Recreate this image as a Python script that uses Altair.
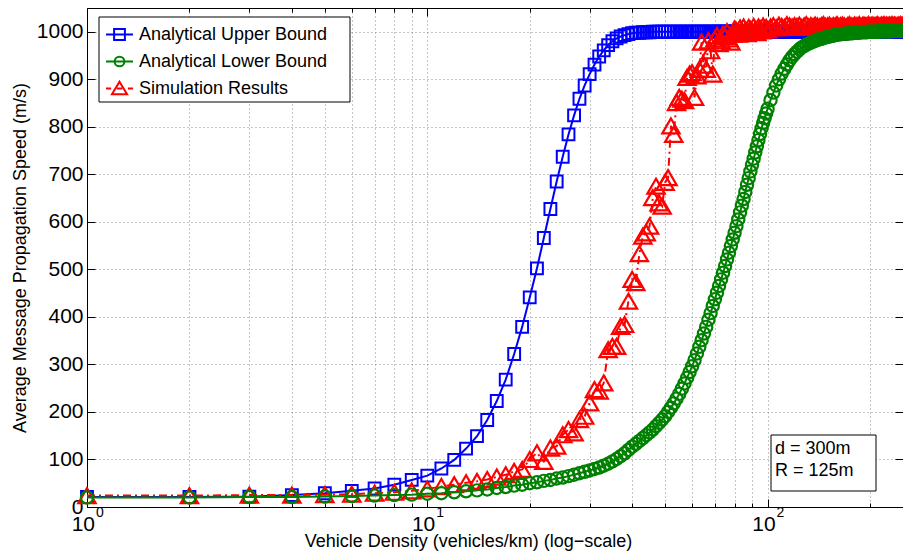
import altair as alt
import pandas as pd

# ---------------- data ----------------
density = list(range(1, 101)) + list(range(102, 251, 2))

upper_bound = [
    21, 21, 22, 25, 29, 34, 39, 47, 57, 66,
    81, 99, 123, 149, 183, 223, 268, 322, 379, 441,
    502, 566, 627, 685, 737, 784, 824, 859, 887, 911,
    931, 948, 961, 972, 980, 986, 990, 993, 995, 997,
    998, 998, 999, 999, 999, 1000, 1000, 1000, 1000, 1000,
    1000, 1000, 1000, 1000, 1000, 1000, 1000, 1000, 1000, 1000,
    1000, 1000, 1000, 1000, 1000, 1000, 1000, 1000, 1000, 1000,
    1000, 1000, 1000, 1000, 1000, 1000, 1000, 1000, 1000, 1000,
    1000, 1000, 1000, 1000, 1000, 1000, 1000, 1000, 1000, 1000,
    1000, 1000, 1000, 1000, 1000, 1000, 1000, 1000, 1000, 1000,
    1000, 1000, 1000, 1000, 1000, 1000, 1000, 1000, 1000, 1000,
    1000, 1000, 1000, 1000, 1000, 1000, 1000, 1000, 1000, 1000,
    1000, 1000, 1000, 1000, 1000, 1000, 1000, 1000, 1000, 1000,
    1000, 1000, 1000, 1000, 1000, 1000, 1000, 1000, 1000, 1000,
    1000, 1000, 1000, 1000, 1000, 1000, 1000, 1000, 1000, 1000,
    1000, 1000, 1000, 1000, 1000, 1000, 1000, 1000, 1000, 1000,
    1000, 1000, 1000, 1000, 1000, 1000, 1000, 1000, 1000, 1000,
    1000, 1000, 1000, 1000, 1000,
]

lower_bound = [
    20, 20, 21, 21, 22, 23, 24, 25, 26, 28,
    29, 31, 33, 35, 37, 40, 42, 45, 47, 50,
    52, 55, 57, 60, 62, 65, 68, 71, 74, 77,
    80, 83, 87, 91, 96, 101, 107, 113, 120, 127,
    133, 139, 145, 151, 157, 163, 170, 177, 184, 191,
    200, 209, 218, 228, 238, 249, 260, 272, 284, 296,
    309, 323, 337, 351, 365, 379, 394, 408, 423, 437,
    451, 465, 479, 493, 507, 521, 535, 549, 563, 577,
    591, 605, 620, 634, 648, 663, 678, 692, 706, 720,
    733, 746, 759, 772, 785, 797, 808, 818, 828, 838,
    856, 872, 887, 900, 912, 922, 931, 940, 947, 953,
    958, 963, 967, 970, 973, 975, 977, 979, 981, 983,
    984, 985, 987, 988, 989, 990, 991, 992, 993, 994,
    994, 995, 995, 996, 996, 996, 997, 997, 997, 998,
    998, 998, 998, 999, 999, 999, 999, 999, 1000, 1000,
    1000, 1000, 1000, 1000, 1000, 1001, 1001, 1001, 1001, 1001,
    1001, 1001, 1001, 1001, 1001, 1002, 1002, 1002, 1002, 1002,
    1002, 1002, 1002, 1002, 1002,
]

simulation = [
    24, 24, 25, 25, 26, 27, 29, 31, 34, 38,
    43, 47, 51, 54, 58, 63, 68, 75, 79, 100,
    114, 96, 124, 128, 152, 163, 156, 184, 191, 219,
    247, 244, 261, 331, 338, 338, 380, 384, 433, 479,
    472, 533, 570, 577, 591, 651, 675, 640, 633, 683,
    693, 802, 784, 851, 862, 858, 855, 904, 911, 914,
    862, 907, 921, 978, 930, 921, 981, 960, 911, 985,
    992, 975, 981, 995, 990, 1000, 985, 978, 995, 1006,
    1002, 995, 1008, 998, 1010, 1003, 996, 1009, 1005, 1000,
    1011, 1004, 998, 1010, 1007, 1002, 1012, 1006, 1009, 1004,
    1010, 1013, 1008, 1014, 1011, 1009, 1015, 1012, 1010, 1013,
    1011, 1014, 1009, 1012, 1015, 1010, 1013, 1011, 1014, 1012,
    1010, 1013, 1015, 1011, 1012, 1014, 1010, 1013, 1012, 1015,
    1011, 1013, 1014, 1012, 1010, 1013, 1015, 1012, 1011, 1014,
    1013, 1012, 1015, 1011, 1013, 1014, 1012, 1013, 1015, 1012,
    1013, 1014, 1012, 1013, 1015, 1013, 1012, 1014, 1013, 1015,
    1012, 1014, 1013, 1014, 1012, 1015, 1013, 1014, 1013, 1012,
    1014, 1013, 1015, 1013, 1014,
]

series_names = ["Analytical Upper Bound", "Analytical Lower Bound", "Simulation Results"]
series_colors = ["#0000ff", "#008000", "#ff0000"]

y_ticks = [0, 100, 200, 300, 400, 500, 600, 700, 800, 900, 1000]
x_major = [1, 10, 100]
x_minor = [2, 3, 4, 5, 6, 7, 8, 9, 20, 30, 40, 50, 60, 70, 80, 90, 200]
x_exponents = ["0", "1", "2"]

note_lines = ["d = 300m", "R = 125m"]

x_title = "Vehicle Density (vehicles/km) (log\u2212scale)"
y_title = "Average Message Propagation Speed (m/s)"

# ---------------- frames ----------------
df_upper = pd.DataFrame({"density": density, "speed": upper_bound})
df_lower = pd.DataFrame({"density": density, "speed": lower_bound})
df_sim = pd.DataFrame({"density": density, "speed": simulation})
df_xlab = pd.DataFrame({"density": x_major, "base": ["10"] * len(x_major), "exp": x_exponents})
df_leg = pd.DataFrame({"series": series_names, "density": [1] * 3, "speed": [0] * 3})
df_dummy = pd.DataFrame({"density": [1], "speed": [0]})
df_note = pd.DataFrame({"note": ["\n".join(note_lines)]})

W, H = 816, 499
FONT = "Liberation Sans"

xs = alt.Scale(type="log", domain=[1, 250], nice=False)
ys = alt.Scale(domain=[0, 1050], nice=False, zero=False)

grid_style = dict(grid=True, gridColor="#8a8a8a", gridDash=[1, 3], gridWidth=1, gridOpacity=1)

x_main_axis = alt.Axis(
    values=x_major + x_minor, ticks=False, labels=False, domain=True,
    domainColor="black", domainWidth=1, title=x_title, titleFontSize=18,
    titleFontWeight="normal", titleX=381, titleY=39, titleBaseline="alphabetic",
    titleAlign="center", titleColor="black", **grid_style)
y_main_axis = alt.Axis(
    values=y_ticks, format="d", ticks=False, labels=True, labelFontSize=21,
    labelPadding=4, labelColor="black", domain=True, domainColor="black",
    domainWidth=1, title=y_title, titleFontSize=18, titleFontWeight="normal",
    titleX=-67, titleY=H / 2, titleAngle=-90, titleBaseline="middle",
    titleAlign="center", titleColor="black", **grid_style)

X0 = alt.X("density:Q", scale=xs, axis=None)
Y0 = alt.Y("speed:Q", scale=ys, axis=None)

blue_line = alt.Chart(df_upper).mark_line(color=series_colors[0], strokeWidth=2).encode(
    x=alt.X("density:Q", scale=xs, axis=x_main_axis),
    y=alt.Y("speed:Q", scale=ys, axis=y_main_axis))
blue_pts = alt.Chart(df_upper).mark_point(
    shape="square", filled=False, size=140, strokeWidth=2, opacity=1,
    color=series_colors[0]).encode(x=X0, y=Y0)

red_line = alt.Chart(df_sim).mark_line(
    color=series_colors[2], strokeWidth=2, strokeDash=[8, 4, 2, 4]).encode(x=X0, y=Y0)
red_pts = alt.Chart(df_sim).mark_point(
    shape="triangle-up", filled=False, size=300, strokeWidth=2.2, opacity=1,
    color=series_colors[2]).encode(x=X0, y=Y0)

green_line = alt.Chart(df_lower).mark_line(color=series_colors[1], strokeWidth=2).encode(x=X0, y=Y0)
green_pts = alt.Chart(df_lower).mark_point(
    shape="circle", filled=False, size=150, strokeWidth=2.2, opacity=1,
    color=series_colors[1]).encode(x=X0, y=Y0)

# inward tick marks (axes moved onto the opposite frame edge)
def tick_axis(orient, values, size, offset, domain=False):
    return alt.Axis(orient=orient, values=values, tickSize=size, tickColor="black",
                    tickWidth=1, labels=False, domain=domain, domainColor="black",
                    domainWidth=1, grid=False, title=None, offset=offset)

t1 = alt.Chart(df_dummy).mark_point(opacity=0).encode(
    x=alt.X("density:Q", scale=xs, axis=tick_axis("top", x_major, 8, -H)),
    y=alt.Y("speed:Q", scale=ys, axis=tick_axis("right", y_ticks, 8, -W)))
t2 = alt.Chart(df_dummy).mark_point(opacity=0).encode(
    x=alt.X("density:Q", scale=xs, axis=tick_axis("top", x_minor, 4, -H)),
    y=alt.Y("speed:Q", scale=ys, axis=tick_axis("left", y_ticks, 8, -W)))
t3 = alt.Chart(df_dummy).mark_point(opacity=0).encode(
    x=alt.X("density:Q", scale=xs, axis=tick_axis("bottom", x_major, 8, -H, domain=True)),
    y=Y0)
t4 = alt.Chart(df_dummy).mark_point(opacity=0).encode(
    x=alt.X("density:Q", scale=xs, axis=tick_axis("bottom", x_minor, 4, -H)),
    y=Y0)

# x tick labels 10^k
xl_base = alt.Chart(df_xlab).mark_text(
    align="right", baseline="alphabetic", dx=8, fontSize=21, font=FONT, color="black"
).encode(x=X0, y=alt.value(H + 24), text="base:N")
xl_exp = alt.Chart(df_xlab).mark_text(
    align="left", baseline="alphabetic", dx=9, fontSize=14, font=FONT, color="black"
).encode(x=X0, y=alt.value(H + 10), text="exp:N")

# legend (frame drawn as a separate box beneath it)
legend_paths = [
    "M-1,0H1M-0.4,-0.4H0.4V0.4H-0.4Z",
    "M-1,0H1M-0.36,0A0.36,0.36,0,1,0,0.36,0A0.36,0.36,0,1,0,-0.36,0Z",
    "M-1,0H-0.62M-0.2,0H0.2M0.62,0H1M0,-0.5L0.56,0.42H-0.56Z",
]
leg = alt.Legend(
    title=None, orient="none", legendX=12, legendY=9, fillColor="transparent",
    strokeColor="transparent", padding=3, symbolOffset=3, symbolSize=729,
    symbolStrokeWidth=2, symbolOpacity=1, symbolFillColor="transparent",
    labelFontSize=18, labelFont=FONT, labelColor="black", labelOffset=5,
    rowPadding=3, labelLimit=400)
legend_layer = alt.Chart(df_leg).mark_point(opacity=0, filled=False).encode(
    x=X0, y=Y0,
    color=alt.Color("series:N", scale=alt.Scale(domain=series_names, range=series_colors),
                    sort=series_names, legend=leg),
    shape=alt.Shape("series:N", scale=alt.Scale(domain=series_names, range=legend_paths),
                    sort=series_names, legend=leg))
legend_box = alt.Chart(df_dummy).mark_rect(fill="white", stroke="black", strokeWidth=1).encode(
    x=alt.value(12), x2=alt.value(263), y=alt.value(9), y2=alt.value(94))

# annotation box
note_box = alt.Chart(df_note).mark_rect(fill="white", stroke="black", strokeWidth=1).encode(
    x=alt.value(684), x2=alt.value(789), y=alt.value(427), y2=alt.value(483))
note_text = alt.Chart(df_note).mark_text(
    align="left", baseline="alphabetic", fontSize=18, font=FONT, color="black",
    lineBreak="\n", lineHeight=21.7
).encode(x=alt.value(688), y=alt.value(446), text="note:N")

chart = alt.layer(
    blue_line, t1, t2, t3, t4,
    blue_pts, red_line, red_pts, green_line, green_pts,
    note_box, note_text, xl_base, xl_exp, legend_box, legend_layer,
).resolve_axis(x="independent", y="independent").properties(
    width=W, height=H,
    padding={"left": 87, "top": 8, "right": 0, "bottom": 44},
    autosize=alt.AutoSizeParams(type="none"),
).configure(font=FONT).configure_axis(
    labelFont=FONT, titleFont=FONT
).configure_view(stroke="transparent")

chart.save("out.html", embed_options={"renderer": "svg", "actions": False})
